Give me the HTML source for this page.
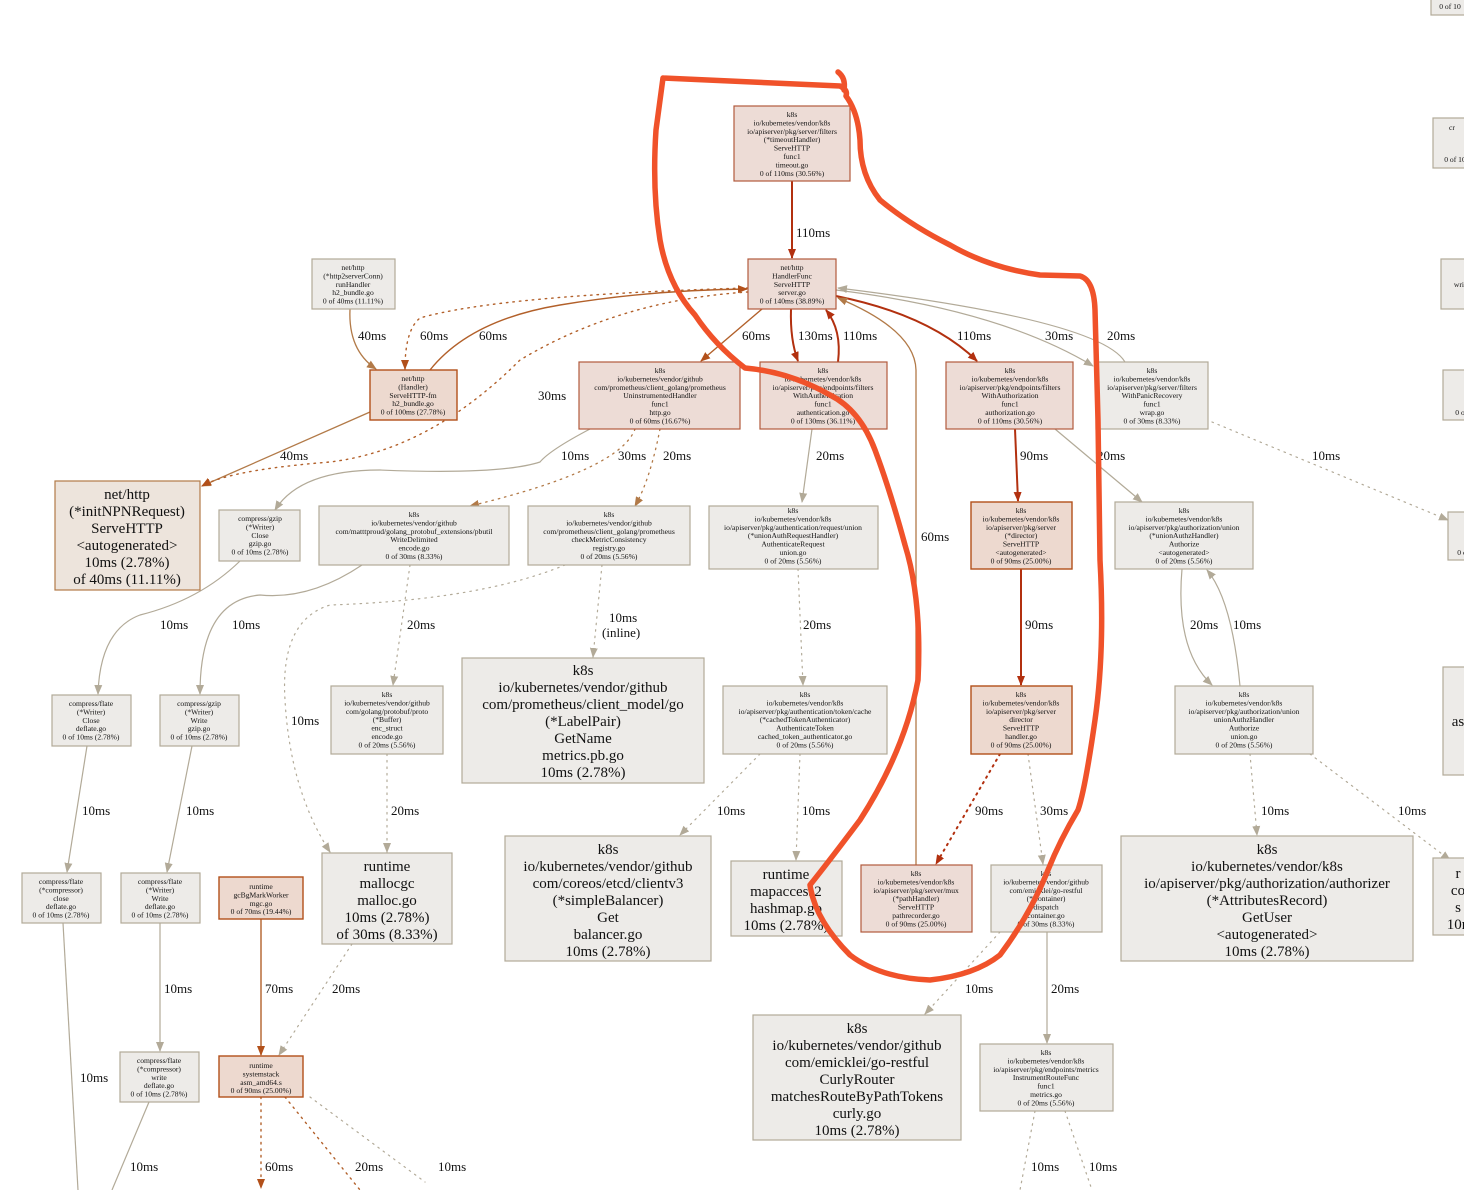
<!DOCTYPE html>
<html><head><meta charset="utf-8"><style>
html,body{margin:0;padding:0;background:#fff;width:1464px;height:1190px;overflow:hidden}
svg{display:block}
text{font-family:"Liberation Serif",serif;fill:#111}
.s text,.s{font-size:7.6px}
.b{font-size:15px}
.l{font-size:13px}
.g{fill:#edebe8;stroke:#b2aa98;stroke-width:1.2}
.r{fill:#eddcd6;stroke:#b25a3c;stroke-width:1.2}
.o{fill:#edd9cf;stroke:#b2501a;stroke-width:1.4}
.n{fill:#ede4dc;stroke:#b27a48;stroke-width:1.2}
.eg{stroke:#b2aa98;fill:none;stroke-width:1.2}
.ed{stroke:#b2300f;fill:none;stroke-width:2}
.eb{stroke:#b27a48;fill:none;stroke-width:1.3}
.eo{stroke:#b2602a;fill:none;stroke-width:1.4}
.dt{stroke-dasharray:1.5 5;stroke-linecap:round}
</style></head><body>
<svg width="1464" height="1190" viewBox="0 0 1464 1190" xmlns="http://www.w3.org/2000/svg">
<defs>
<marker id="ag" markerWidth="10" markerHeight="10" refX="9" refY="5" orient="auto" markerUnits="userSpaceOnUse"><path d="M0,1 L10,5 L0,9z" fill="#b2aa98"/></marker>
<marker id="ad" markerWidth="10" markerHeight="10" refX="9" refY="5" orient="auto" markerUnits="userSpaceOnUse"><path d="M0,1 L10,5 L0,9z" fill="#b2300f"/></marker>
<marker id="ab" markerWidth="10" markerHeight="10" refX="9" refY="5" orient="auto" markerUnits="userSpaceOnUse"><path d="M0,1 L10,5 L0,9z" fill="#b27a48"/></marker>
<marker id="ao" markerWidth="10" markerHeight="10" refX="9" refY="5" orient="auto" markerUnits="userSpaceOnUse"><path d="M0,1 L10,5 L0,9z" fill="#b2501a"/></marker>
</defs>

<g>
<path class="ed" d="M792,181 L792,258" marker-end="url(#ad)"/><text class="l" x="796" y="237">110ms</text>
<path class="ed" d="M791,309 Q790,340 798,361" marker-end="url(#ad)"/><text class="l" x="798" y="340">130ms</text>
<path class="ed" d="M838,362 Q842,330 826,310" marker-end="url(#ad)"/><text class="l" x="843" y="340">110ms</text>
<path class="ed" d="M836,296 Q930,315 977,361" marker-end="url(#ad)"/><text class="l" x="957" y="340">110ms</text>
<path class="eo" d="M762,309 L701,361" marker-end="url(#ao)"/><text class="l" x="742" y="340">60ms</text>
<path class="eg" d="M836,290 Q1000,310 1093,366" marker-end="url(#ag)"/><text class="l" x="1045" y="340">30ms</text>
<path class="eg" d="M1125,362 Q1100,320 838,288" marker-end="url(#ag)"/><text class="l" x="1107" y="340">20ms</text>
<path class="eb" d="M916,865 L916,370 Q915,330 838,298" marker-end="url(#ab)"/><text class="l" x="921" y="541">60ms</text>
<path class="eb" d="M350,309 Q348,350 376,369" marker-end="url(#ab)"/><text class="l" x="358" y="340">40ms</text>
<path class="eo dt" d="M748,288 Q500,295 420,318 Q405,330 405,369" marker-end="url(#ao)"/><text class="l" x="420" y="340">60ms</text>
<path class="eo" d="M430,370 Q470,320 560,305 Q650,290 747,289" marker-end="url(#ao)"/><text class="l" x="479" y="340">60ms</text>
<path class="eb" d="M370,412 L202,486" marker-end="url(#ab)"/><text class="l" x="280" y="460">40ms</text>
<path class="eo dt" d="M748,292 Q620,300 520,360 Q430,450 330,462 Q230,470 202,486" marker-end="url(#ao)"/><text class="l" x="538" y="400">30ms</text>
<path class="eg" d="M590,429 Q550,450 540,462 Q500,475 380,470 Q300,470 275,510" marker-end="url(#ag)"/><text class="l" x="561" y="460">10ms</text>
<path class="eb dt" d="M635,429 Q620,470 470,506" marker-end="url(#ab)"/><text class="l" x="618" y="460">30ms</text>
<path class="eb dt" d="M660,429 Q650,480 635,506" marker-end="url(#ab)"/><text class="l" x="663" y="460">20ms</text>
<path class="eg" d="M812,429 L802,502" marker-end="url(#ag)"/><text class="l" x="816" y="460">20ms</text>
<path class="ed" d="M1015,429 L1018,501" marker-end="url(#ad)"/><text class="l" x="1020" y="460">90ms</text>
<path class="eg" d="M1055,429 L1142,502" marker-end="url(#ag)"/><text class="l" x="1097" y="460">20ms</text>
<path class="eg dt" d="M1212,422 L1448,520" marker-end="url(#ag)"/><text class="l" x="1312" y="460">10ms</text>
<path class="eg" d="M240,561 Q200,600 140,615 Q100,630 98,694" marker-end="url(#ag)"/><text class="l" x="160" y="629">10ms</text>
<path class="eg" d="M362,565 Q310,600 260,595 Q200,600 200,694" marker-end="url(#ag)"/><text class="l" x="232" y="629">10ms</text>
<path class="eg dt" d="M410,565 L393,685" marker-end="url(#ag)"/><text class="l" x="407" y="629">20ms</text>
<path class="eg dt" d="M565,565 Q480,600 330,605 Q280,620 285,700 Q290,790 330,852" marker-end="url(#ag)"/><text class="l" x="291" y="725">10ms</text>
<path class="eg dt" d="M602,565 L593,657" marker-end="url(#ag)"/><text class="l" x="609" y="622">10ms</text><text class="l" x="602" y="637">(inline)</text>
<path class="eg dt" d="M798,569 L803,685" marker-end="url(#ag)"/><text class="l" x="803" y="629">20ms</text>
<path class="ed" d="M1021,569 L1021,685" marker-end="url(#ad)"/><text class="l" x="1025" y="629">90ms</text>
<path class="eg" d="M1182,569 Q1175,650 1212,685" marker-end="url(#ag)"/><text class="l" x="1190" y="629">20ms</text>
<path class="eg" d="M1240,686 Q1232,600 1207,570" marker-end="url(#ag)"/><text class="l" x="1233" y="629">10ms</text>
<path class="eg" d="M87,746 L67,872" marker-end="url(#ag)"/><text class="l" x="82" y="815">10ms</text>
<path class="eg" d="M192,746 L167,872" marker-end="url(#ag)"/><text class="l" x="186" y="815">10ms</text>
<path class="eg dt" d="M387,754 L387,852" marker-end="url(#ag)"/><text class="l" x="391" y="815">20ms</text>
<path class="eg dt" d="M760,754 L680,835" marker-end="url(#ag)"/><text class="l" x="717" y="815">10ms</text>
<path class="eg dt" d="M800,754 L796,860" marker-end="url(#ag)"/><text class="l" x="802" y="815">10ms</text>
<path class="ed dt" d="M1000,754 L936,864" marker-end="url(#ad)"/><text class="l" x="975" y="815">90ms</text>
<path class="eg dt" d="M1028,754 L1043,864" marker-end="url(#ag)"/><text class="l" x="1040" y="815">30ms</text>
<path class="eg dt" d="M1250,754 L1257,835" marker-end="url(#ag)"/><text class="l" x="1261" y="815">10ms</text>
<path class="eg dt" d="M1310,754 L1450,860" marker-end="url(#ag)"/><text class="l" x="1398" y="815">10ms</text>
<path class="eg" d="M63,923 L78,1190"/><text class="l" x="80" y="1082">10ms</text>
<path class="eg" d="M160,923 L160,1051" marker-end="url(#ag)"/><text class="l" x="164" y="993">10ms</text>
<path class="eo" d="M261,919 L261,1055" marker-end="url(#ao)"/><text class="l" x="265" y="993">70ms</text>
<path class="eg dt" d="M352,944 L279,1055" marker-end="url(#ag)"/><text class="l" x="332" y="993">20ms</text>
<path class="eg dt" d="M1000,932 L925,1014" marker-end="url(#ag)"/><text class="l" x="965" y="993">10ms</text>
<path class="eg" d="M1047,932 L1047,1043" marker-end="url(#ag)"/><text class="l" x="1051" y="993">20ms</text>
<path class="eg" d="M149,1102 L112,1190"/><text class="l" x="130" y="1171">10ms</text>
<path class="eo dt" d="M261,1097 L261,1188" marker-end="url(#ao)"/><text class="l" x="265" y="1171">60ms</text>
<path class="eo dt" d="M285,1097 L360,1190"/><text class="l" x="355" y="1171">20ms</text>
<path class="eg dt" d="M310,1097 L425,1182"/><text class="l" x="438" y="1171">10ms</text>
<path class="eg dt" d="M1035,1111 L1020,1190"/><text class="l" x="1031" y="1171">10ms</text>
<path class="eg dt" d="M1065,1111 L1092,1190"/><text class="l" x="1089" y="1171">10ms</text>
</g>

<g class="s" text-anchor="middle">
<rect class="r" x="734" y="106" width="116" height="75"/>
<text x="792" y="117"><tspan x="792">k8s</tspan><tspan x="792" dy="8.4">io/kubernetes/vendor/k8s</tspan><tspan x="792" dy="8.4">io/apiserver/pkg/server/filters</tspan><tspan x="792" dy="8.4">(*timeoutHandler)</tspan><tspan x="792" dy="8.4">ServeHTTP</tspan><tspan x="792" dy="8.4">func1</tspan><tspan x="792" dy="8.4">timeout.go</tspan><tspan x="792" dy="8.4">0 of 110ms (30.56%)</tspan></text>

<rect class="r" x="748" y="259" width="88" height="50"/>
<text x="792" y="270"><tspan x="792">net/http</tspan><tspan x="792" dy="8.4">HandlerFunc</tspan><tspan x="792" dy="8.4">ServeHTTP</tspan><tspan x="792" dy="8.4">server.go</tspan><tspan x="792" dy="8.4">0 of 140ms (38.89%)</tspan></text>

<rect class="g" x="312" y="259" width="83" height="50"/>
<text x="353" y="270"><tspan x="353">net/http</tspan><tspan x="353" dy="8.4">(*http2serverConn)</tspan><tspan x="353" dy="8.4">runHandler</tspan><tspan x="353" dy="8.4">h2_bundle.go</tspan><tspan x="353" dy="8.4">0 of 40ms (11.11%)</tspan></text>

<rect class="o" x="370" y="370" width="87" height="50"/>
<text x="413" y="381"><tspan x="413">net/http</tspan><tspan x="413" dy="8.4">(Handler)</tspan><tspan x="413" dy="8.4">ServeHTTP-fm</tspan><tspan x="413" dy="8.4">h2_bundle.go</tspan><tspan x="413" dy="8.4">0 of 100ms (27.78%)</tspan></text>

<rect class="r" x="579" y="362" width="161" height="67"/>
<text x="660" y="373"><tspan x="660">k8s</tspan><tspan x="660" dy="8.4">io/kubernetes/vendor/github</tspan><tspan x="660" dy="8.4">com/prometheus/client_golang/prometheus</tspan><tspan x="660" dy="8.4">UninstrumentedHandler</tspan><tspan x="660" dy="8.4">func1</tspan><tspan x="660" dy="8.4">http.go</tspan><tspan x="660" dy="8.4">0 of 60ms (16.67%)</tspan></text>

<rect class="r" x="760" y="362" width="127" height="67"/>
<text x="823" y="373"><tspan x="823">k8s</tspan><tspan x="823" dy="8.4">io/kubernetes/vendor/k8s</tspan><tspan x="823" dy="8.4">io/apiserver/pkg/endpoints/filters</tspan><tspan x="823" dy="8.4">WithAuthentication</tspan><tspan x="823" dy="8.4">func1</tspan><tspan x="823" dy="8.4">authentication.go</tspan><tspan x="823" dy="8.4">0 of 130ms (36.11%)</tspan></text>

<rect class="r" x="946" y="362" width="127" height="67"/>
<text x="1010" y="373"><tspan x="1010">k8s</tspan><tspan x="1010" dy="8.4">io/kubernetes/vendor/k8s</tspan><tspan x="1010" dy="8.4">io/apiserver/pkg/endpoints/filters</tspan><tspan x="1010" dy="8.4">WithAuthorization</tspan><tspan x="1010" dy="8.4">func1</tspan><tspan x="1010" dy="8.4">authorization.go</tspan><tspan x="1010" dy="8.4">0 of 110ms (30.56%)</tspan></text>

<rect class="g" x="1096" y="362" width="112" height="67"/>
<text x="1152" y="373"><tspan x="1152">k8s</tspan><tspan x="1152" dy="8.4">io/kubernetes/vendor/k8s</tspan><tspan x="1152" dy="8.4">io/apiserver/pkg/server/filters</tspan><tspan x="1152" dy="8.4">WithPanicRecovery</tspan><tspan x="1152" dy="8.4">func1</tspan><tspan x="1152" dy="8.4">wrap.go</tspan><tspan x="1152" dy="8.4">0 of 30ms (8.33%)</tspan></text>

<rect class="g" x="219" y="510" width="81" height="51"/>
<text x="260" y="521"><tspan x="260">compress/gzip</tspan><tspan x="260" dy="8.4">(*Writer)</tspan><tspan x="260" dy="8.4">Close</tspan><tspan x="260" dy="8.4">gzip.go</tspan><tspan x="260" dy="8.4">0 of 10ms (2.78%)</tspan></text>

<rect class="g" x="319" y="506" width="190" height="59"/>
<text x="414" y="517"><tspan x="414">k8s</tspan><tspan x="414" dy="8.4">io/kubernetes/vendor/github</tspan><tspan x="414" dy="8.4">com/matttproud/golang_protobuf_extensions/pbutil</tspan><tspan x="414" dy="8.4">WriteDelimited</tspan><tspan x="414" dy="8.4">encode.go</tspan><tspan x="414" dy="8.4">0 of 30ms (8.33%)</tspan></text>

<rect class="g" x="528" y="506" width="162" height="59"/>
<text x="609" y="517"><tspan x="609">k8s</tspan><tspan x="609" dy="8.4">io/kubernetes/vendor/github</tspan><tspan x="609" dy="8.4">com/prometheus/client_golang/prometheus</tspan><tspan x="609" dy="8.4">checkMetricConsistency</tspan><tspan x="609" dy="8.4">registry.go</tspan><tspan x="609" dy="8.4">0 of 20ms (5.56%)</tspan></text>

<rect class="g" x="709" y="506" width="169" height="63"/>
<text x="793" y="513"><tspan x="793">k8s</tspan><tspan x="793" dy="8.4">io/kubernetes/vendor/k8s</tspan><tspan x="793" dy="8.4">io/apiserver/pkg/authentication/request/union</tspan><tspan x="793" dy="8.4">(*unionAuthRequestHandler)</tspan><tspan x="793" dy="8.4">AuthenticateRequest</tspan><tspan x="793" dy="8.4">union.go</tspan><tspan x="793" dy="8.4">0 of 20ms (5.56%)</tspan></text>

<rect class="o" x="971" y="502" width="101" height="67"/>
<text x="1021" y="513"><tspan x="1021">k8s</tspan><tspan x="1021" dy="8.4">io/kubernetes/vendor/k8s</tspan><tspan x="1021" dy="8.4">io/apiserver/pkg/server</tspan><tspan x="1021" dy="8.4">(*director)</tspan><tspan x="1021" dy="8.4">ServeHTTP</tspan><tspan x="1021" dy="8.4">&lt;autogenerated&gt;</tspan><tspan x="1021" dy="8.4">0 of 90ms (25.00%)</tspan></text>

<rect class="g" x="1115" y="502" width="138" height="67"/>
<text x="1184" y="513"><tspan x="1184">k8s</tspan><tspan x="1184" dy="8.4">io/kubernetes/vendor/k8s</tspan><tspan x="1184" dy="8.4">io/apiserver/pkg/authorization/union</tspan><tspan x="1184" dy="8.4">(*unionAuthzHandler)</tspan><tspan x="1184" dy="8.4">Authorize</tspan><tspan x="1184" dy="8.4">&lt;autogenerated&gt;</tspan><tspan x="1184" dy="8.4">0 of 20ms (5.56%)</tspan></text>

<rect class="g" x="52" y="695" width="79" height="51"/>
<text x="91" y="706"><tspan x="91">compress/flate</tspan><tspan x="91" dy="8.4">(*Writer)</tspan><tspan x="91" dy="8.4">Close</tspan><tspan x="91" dy="8.4">deflate.go</tspan><tspan x="91" dy="8.4">0 of 10ms (2.78%)</tspan></text>

<rect class="g" x="160" y="695" width="79" height="51"/>
<text x="199" y="706"><tspan x="199">compress/gzip</tspan><tspan x="199" dy="8.4">(*Writer)</tspan><tspan x="199" dy="8.4">Write</tspan><tspan x="199" dy="8.4">gzip.go</tspan><tspan x="199" dy="8.4">0 of 10ms (2.78%)</tspan></text>

<rect class="g" x="331" y="686" width="112" height="68"/>
<text x="387" y="697"><tspan x="387">k8s</tspan><tspan x="387" dy="8.4">io/kubernetes/vendor/github</tspan><tspan x="387" dy="8.4">com/golang/protobuf/proto</tspan><tspan x="387" dy="8.4">(*Buffer)</tspan><tspan x="387" dy="8.4">enc_struct</tspan><tspan x="387" dy="8.4">encode.go</tspan><tspan x="387" dy="8.4">0 of 20ms (5.56%)</tspan></text>

<rect class="g" x="723" y="686" width="164" height="68"/>
<text x="805" y="697"><tspan x="805">k8s</tspan><tspan x="805" dy="8.4">io/kubernetes/vendor/k8s</tspan><tspan x="805" dy="8.4">io/apiserver/pkg/authentication/token/cache</tspan><tspan x="805" dy="8.4">(*cachedTokenAuthenticator)</tspan><tspan x="805" dy="8.4">AuthenticateToken</tspan><tspan x="805" dy="8.4">cached_token_authenticator.go</tspan><tspan x="805" dy="8.4">0 of 20ms (5.56%)</tspan></text>

<rect class="o" x="971" y="686" width="101" height="68"/>
<text x="1021" y="697"><tspan x="1021">k8s</tspan><tspan x="1021" dy="8.4">io/kubernetes/vendor/k8s</tspan><tspan x="1021" dy="8.4">io/apiserver/pkg/server</tspan><tspan x="1021" dy="8.4">director</tspan><tspan x="1021" dy="8.4">ServeHTTP</tspan><tspan x="1021" dy="8.4">handler.go</tspan><tspan x="1021" dy="8.4">0 of 90ms (25.00%)</tspan></text>

<rect class="g" x="1175" y="686" width="138" height="68"/>
<text x="1244" y="697"><tspan x="1244">k8s</tspan><tspan x="1244" dy="8.4">io/kubernetes/vendor/k8s</tspan><tspan x="1244" dy="8.4">io/apiserver/pkg/authorization/union</tspan><tspan x="1244" dy="8.4">unionAuthzHandler</tspan><tspan x="1244" dy="8.4">Authorize</tspan><tspan x="1244" dy="8.4">union.go</tspan><tspan x="1244" dy="8.4">0 of 20ms (5.56%)</tspan></text>

<rect class="g" x="22" y="873" width="79" height="50"/>
<text x="61" y="884"><tspan x="61">compress/flate</tspan><tspan x="61" dy="8.4">(*compressor)</tspan><tspan x="61" dy="8.4">close</tspan><tspan x="61" dy="8.4">deflate.go</tspan><tspan x="61" dy="8.4">0 of 10ms (2.78%)</tspan></text>

<rect class="g" x="121" y="873" width="79" height="50"/>
<text x="160" y="884"><tspan x="160">compress/flate</tspan><tspan x="160" dy="8.4">(*Writer)</tspan><tspan x="160" dy="8.4">Write</tspan><tspan x="160" dy="8.4">deflate.go</tspan><tspan x="160" dy="8.4">0 of 10ms (2.78%)</tspan></text>

<rect class="o" x="219" y="877" width="84" height="42"/>
<text x="261" y="889"><tspan x="261">runtime</tspan><tspan x="261" dy="8.4">gcBgMarkWorker</tspan><tspan x="261" dy="8.4">mgc.go</tspan><tspan x="261" dy="8.4">0 of 70ms (19.44%)</tspan></text>

<rect class="r" x="861" y="865" width="111" height="67"/>
<text x="916" y="876"><tspan x="916">k8s</tspan><tspan x="916" dy="8.4">io/kubernetes/vendor/k8s</tspan><tspan x="916" dy="8.4">io/apiserver/pkg/server/mux</tspan><tspan x="916" dy="8.4">(*pathHandler)</tspan><tspan x="916" dy="8.4">ServeHTTP</tspan><tspan x="916" dy="8.4">pathrecorder.go</tspan><tspan x="916" dy="8.4">0 of 90ms (25.00%)</tspan></text>

<rect class="g" x="991" y="865" width="111" height="67"/>
<text x="1046" y="876"><tspan x="1046">k8s</tspan><tspan x="1046" dy="8.4">io/kubernetes/vendor/github</tspan><tspan x="1046" dy="8.4">com/emicklei/go-restful</tspan><tspan x="1046" dy="8.4">(*Container)</tspan><tspan x="1046" dy="8.4">dispatch</tspan><tspan x="1046" dy="8.4">container.go</tspan><tspan x="1046" dy="8.4">0 of 30ms (8.33%)</tspan></text>

<rect class="g" x="980" y="1044" width="133" height="67"/>
<text x="1046" y="1055"><tspan x="1046">k8s</tspan><tspan x="1046" dy="8.4">io/kubernetes/vendor/k8s</tspan><tspan x="1046" dy="8.4">io/apiserver/pkg/endpoints/metrics</tspan><tspan x="1046" dy="8.4">InstrumentRouteFunc</tspan><tspan x="1046" dy="8.4">func1</tspan><tspan x="1046" dy="8.4">metrics.go</tspan><tspan x="1046" dy="8.4">0 of 20ms (5.56%)</tspan></text>

<rect class="g" x="120" y="1052" width="79" height="50"/>
<text x="159" y="1063"><tspan x="159">compress/flate</tspan><tspan x="159" dy="8.4">(*compressor)</tspan><tspan x="159" dy="8.4">write</tspan><tspan x="159" dy="8.4">deflate.go</tspan><tspan x="159" dy="8.4">0 of 10ms (2.78%)</tspan></text>

<rect class="o" x="219" y="1056" width="84" height="41"/>
<text x="261" y="1068"><tspan x="261">runtime</tspan><tspan x="261" dy="8.4">systemstack</tspan><tspan x="261" dy="8.4">asm_amd64.s</tspan><tspan x="261" dy="8.4">0 of 90ms (25.00%)</tspan></text>

<rect class="g" x="1431" y="-2" width="40" height="17"/><text x="1450" y="9">0 of 10</text>
<rect class="g" x="1433" y="118" width="40" height="50"/><text x="1452" y="130">cr</text><text x="1455" y="162">0 of 10</text>
<rect class="g" x="1441" y="259" width="30" height="50"/><text x="1460" y="287">writ</text>
<rect class="g" x="1443" y="370" width="30" height="50"/><text x="1460" y="415">0 o</text>
<rect class="g" x="1448" y="512" width="30" height="48"/><text x="1462" y="555">0 o</text>
</g>

<g class="b" text-anchor="middle">
<rect class="n" x="55" y="481" width="145" height="109"/>
<text x="127" y="499"><tspan x="127">net/http</tspan><tspan x="127" dy="17">(*initNPNRequest)</tspan><tspan x="127" dy="17">ServeHTTP</tspan><tspan x="127" dy="17">&lt;autogenerated&gt;</tspan><tspan x="127" dy="17">10ms (2.78%)</tspan><tspan x="127" dy="17">of 40ms (11.11%)</tspan></text>

<rect class="g" x="462" y="658" width="242" height="125"/>
<text x="583" y="675"><tspan x="583">k8s</tspan><tspan x="583" dy="17">io/kubernetes/vendor/github</tspan><tspan x="583" dy="17">com/prometheus/client_model/go</tspan><tspan x="583" dy="17">(*LabelPair)</tspan><tspan x="583" dy="17">GetName</tspan><tspan x="583" dy="17">metrics.pb.go</tspan><tspan x="583" dy="17">10ms (2.78%)</tspan></text>

<rect class="g" x="322" y="853" width="130" height="91"/>
<text x="387" y="871"><tspan x="387">runtime</tspan><tspan x="387" dy="17">mallocgc</tspan><tspan x="387" dy="17">malloc.go</tspan><tspan x="387" dy="17">10ms (2.78%)</tspan><tspan x="387" dy="17">of 30ms (8.33%)</tspan></text>

<rect class="g" x="505" y="836" width="206" height="125"/>
<text x="608" y="854"><tspan x="608">k8s</tspan><tspan x="608" dy="17">io/kubernetes/vendor/github</tspan><tspan x="608" dy="17">com/coreos/etcd/clientv3</tspan><tspan x="608" dy="17">(*simpleBalancer)</tspan><tspan x="608" dy="17">Get</tspan><tspan x="608" dy="17">balancer.go</tspan><tspan x="608" dy="17">10ms (2.78%)</tspan></text>

<rect class="g" x="731" y="861" width="111" height="75"/>
<text x="786" y="879"><tspan x="786">runtime</tspan><tspan x="786" dy="17">mapaccess2</tspan><tspan x="786" dy="17">hashmap.go</tspan><tspan x="786" dy="17">10ms (2.78%)</tspan></text>

<rect class="g" x="1121" y="836" width="292" height="125"/>
<text x="1267" y="854"><tspan x="1267">k8s</tspan><tspan x="1267" dy="17">io/kubernetes/vendor/k8s</tspan><tspan x="1267" dy="17">io/apiserver/pkg/authorization/authorizer</tspan><tspan x="1267" dy="17">(*AttributesRecord)</tspan><tspan x="1267" dy="17">GetUser</tspan><tspan x="1267" dy="17">&lt;autogenerated&gt;</tspan><tspan x="1267" dy="17">10ms (2.78%)</tspan></text>

<rect class="g" x="753" y="1015" width="208" height="125"/>
<text x="857" y="1033"><tspan x="857">k8s</tspan><tspan x="857" dy="17">io/kubernetes/vendor/github</tspan><tspan x="857" dy="17">com/emicklei/go-restful</tspan><tspan x="857" dy="17">CurlyRouter</tspan><tspan x="857" dy="17">matchesRouteByPathTokens</tspan><tspan x="857" dy="17">curly.go</tspan><tspan x="857" dy="17">10ms (2.78%)</tspan></text>

<rect class="g" x="1443" y="667" width="30" height="108"/><text x="1458" y="726">as</text>
<rect class="g" x="1433" y="858" width="40" height="77"/><text x="1458" y="878">r</text><text x="1458" y="895">co</text><text x="1458" y="912">s</text><text x="1458" y="929">10n</text>
</g>

<path d="M663,78 L840,86 Q848,90 846,96 Q858,112 860,140 Q860,175 880,200 Q910,225 950,245 Q990,268 1040,275 L1080,276 Q1094,280 1095,310 L1098,420 L1100,560 Q1105,650 1095,720 Q1085,790 1078,810 Q1060,840 1048,870 Q1030,915 1000,955 Q975,975 930,980 Q880,978 850,955 Q815,920 810,885 Q830,860 860,820 Q905,750 918,680 Q922,600 905,545 Q890,490 875,450 Q860,410 830,395 Q790,372 745,368 Q715,345 695,315 Q668,285 660,240 Q652,190 656,130 L663,78" fill="none" stroke="#f0522a" stroke-width="5.5" stroke-linejoin="round" stroke-linecap="round"/>
<path d="M838,72 Q846,78 844,90" fill="none" stroke="#f0522a" stroke-width="5.5" stroke-linecap="round"/>
</svg>
</body></html>
